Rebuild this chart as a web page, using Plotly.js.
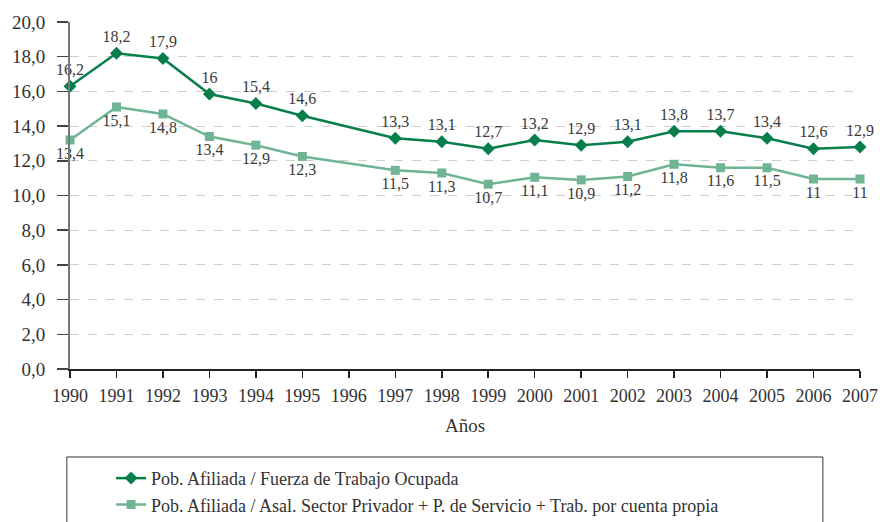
<!DOCTYPE html>
<html><head><meta charset="utf-8">
<script src="https://cdn.plot.ly/plotly-3.0.1.min.js"></script>
<style>html,body{margin:0;padding:0;background:#fff}#chart{width:880px;height:522px}</style>
</head><body><div id="chart"></div>
<script>
var years = [1990,1991,1992,1993,1994,1995,1997,1998,1999,2000,2001,2002,2003,2004,2005,2006,2007];
var tickYears = [1990,1991,1992,1993,1994,1995,1996,1997,1998,1999,2000,2001,2002,2003,2004,2005,2006,2007];
var seriesA = [16.3,18.2,17.9,15.85,15.3,14.6,13.3,13.1,12.7,13.2,12.9,13.1,13.7,13.7,13.3,12.7,12.8];
var labelsA = ["16,2","18,2","17,9","16","15,4","14,6","13,3","13,1","12,7","13,2","12,9","13,1","13,8","13,7","13,4","12,6","12,9"];
var seriesB = [13.2,15.1,14.7,13.4,12.9,12.25,11.45,11.3,10.65,11.05,10.9,11.1,11.8,11.6,11.6,10.95,10.95];
var labelsB = ["13,4","15,1","14,8","13,4","12,9","12,3","11,5","11,3","10,7","11,1","10,9","11,2","11,8","11,6","11,5","11","11"];
var nameA = "Pob. Afiliada / Fuerza de Trabajo Ocupada";
var nameB = "Pob. Afiliada / Asal. Sector Privador + P. de Servicio + Trab. por cuenta propia";

var font = "Liberation Serif, Times New Roman, serif";
var traces = [
  {x: years, y: seriesA, name: nameA, mode: "lines+markers+text", text: labelsA,
   textposition: "top center", textfont: {family: font, size: 16, color: "#3a3a3a"},
   line: {color: "#087f4b", width: 2.5}, marker: {symbol: "diamond", size: 10, color: "#087f4b"}},
  {x: years, y: seriesB, name: nameB, mode: "lines+markers+text", text: labelsB,
   textposition: "bottom center", textfont: {family: font, size: 16, color: "#3a3a3a"},
   line: {color: "#6fb594", width: 2.5}, marker: {symbol: "square", size: 9, color: "#6fb594"}}
];
traces.forEach(function(t){ t.cliponaxis = false; });
var layout = {
  width: 880, height: 522,
  margin: {l: 70, r: 20, t: 22, b: 153, autoexpand: false},
  paper_bgcolor: "#fff", plot_bgcolor: "#fff",
  separators: ",.",
  font: {family: font, color: "#333", size: 16},
  showlegend: true,
  legend: {x: 0.052, y: -0.262, xanchor: "left", yanchor: "top", bgcolor: "rgba(0,0,0,0)",
           borderwidth: 0, font: {family: font, size: 18, color: "#333"}, tracegroupgap: 0},
  xaxis: {range: [1990, 2007], tickvals: tickYears, ticktext: tickYears.map(String),
          showgrid: false, zeroline: false, showline: true, linecolor: "#222", linewidth: 1.5,
          ticks: "outside", ticklen: 7, tickcolor: "#222", tickwidth: 1.5, ticklabelstandoff: 3,
          tickfont: {family: font, size: 18, color: "#333"},
          title: {text: "Años", font: {family: font, size: 19, color: "#333"}, standoff: 13}},
  yaxis: {range: [0, 20], tickvals: [0,2,4,6,8,10,12,14,16,18,20], tickformat: ".1f",
          showgrid: true, gridcolor: "#cfcfcf", griddash: "dash", gridwidth: 1,
          zeroline: false, showline: true, linecolor: "#777", linewidth: 2,
          ticks: "outside", ticklen: 11, tickcolor: "#444", tickwidth: 1.5, ticklabelstandoff: 8,
          tickfont: {family: font, size: 19, color: "#333"}},
  shapes: [{type: "rect", xref: "paper", yref: "paper", x0: -0.004, x1: 0.953, y0: -0.6, y1: -0.2536,
            line: {color: "#333", width: 1}, fillcolor: "rgba(0,0,0,0)"}]
};
Plotly.newPlot("chart", traces, layout, {displayModeBar: false, staticPlot: true});
</script></body></html>
